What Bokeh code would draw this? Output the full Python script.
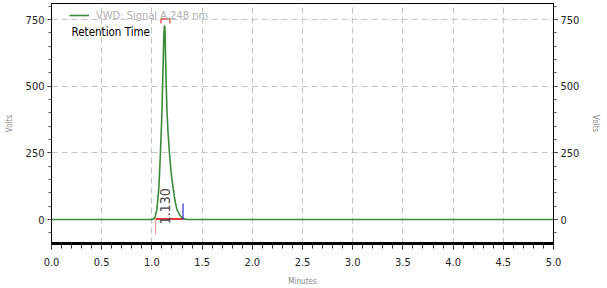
import numpy as np
from bokeh.plotting import figure
from bokeh.models import (LinearAxis, SingleIntervalTicker, Range1d, Legend, LegendItem,
                          ColumnDataSource, Label, CustomJSTickFormatter)
from bokeh.core.properties import value
from bokeh.embed import file_html
from bokeh.resources import INLINE

# ---- data ----
time_min = [0.0, 1.00, 1.03, 1.05, 1.07, 1.085, 1.10, 1.11, 1.12, 1.125, 1.13, 1.14, 1.15,
            1.16, 1.175, 1.19, 1.21, 1.23, 1.25, 1.28, 1.31, 1.35, 5.0]
signal = [0, 0, 7, 37, 123, 249, 400, 560, 700, 728, 715, 540, 410,
          330, 249, 180, 123, 70, 37, 15, 4, 0, 0]

peak_rt = [1.13]
peak_label = ["1.130"]
peak_start = 1.036
peak_end = 1.31
baseline_level = 2
start_marker_depth = -56
end_marker_height = 60
width_bar_left = 1.09
width_bar_right = 1.18
width_bar_level = 752
width_bar_tick = 735

x_ticks_interval = 0.5
y_ticks_interval = 250

FONT = "DejaVu Sans Condensed, Liberation Sans Narrow, Arial Narrow, Liberation Sans, sans-serif"

p = figure(width=607, height=288, output_backend="svg", toolbar_location=None,
           x_range=Range1d(0, 5), y_range=Range1d(-90, 810),
           min_border_left=51, min_border_right=54, min_border_top=3, min_border_bottom=44)
p.background_fill_color = "white"
p.border_fill_color = "white"
p.outline_line_color = "black"
p.outline_line_width = 1

xt = SingleIntervalTicker(interval=x_ticks_interval, num_minor_ticks=5)
yt = SingleIntervalTicker(interval=y_ticks_interval, num_minor_ticks=5)

p.xaxis.ticker = xt
p.yaxis.ticker = yt
p.xgrid.ticker = xt
p.ygrid.ticker = yt
for g in (p.xgrid, p.ygrid):
    g.grid_line_color = "#c4c4c4"
    g.grid_line_dash = "6 4"
    g.grid_line_width = 1

ry = LinearAxis(ticker=yt)
p.add_layout(ry, "right")

for ax in (p.yaxis[0], ry):
    ax.axis_label = "Volts"
    ax.axis_label_text_font_size = "8px"
    ax.axis_label_text_font_style = "normal"
    ax.axis_label_text_color = "#888888"
    ax.axis_label_text_font = FONT
    ax.axis_label_standoff = 9
    ax.major_label_text_font = FONT
    ax.major_label_text_font_size = "11px"
    ax.major_label_text_color = "#222222"
    ax.major_label_standoff = 3
    ax.major_tick_out = 4
    ax.major_tick_in = 0
    ax.minor_tick_out = 3
    ax.minor_tick_in = 0
    ax.axis_line_color = "black"
    ax.major_tick_line_color = "black"
    ax.minor_tick_line_color = "#555555"

xa = p.xaxis[0]
xa.axis_label = "Minutes"
xa.axis_label_text_font_size = "8px"
xa.axis_label_text_font_style = "normal"
xa.axis_label_text_color = "#888888"
xa.axis_label_text_font = FONT
xa.axis_label_standoff = 8
xa.major_label_text_font = FONT
xa.major_label_text_font_size = "11px"
xa.major_label_text_color = "#222222"
xa.major_label_standoff = 8
xa.major_tick_out = 6
xa.major_tick_in = 0
xa.minor_tick_out = 5
xa.minor_tick_in = 0
xa.axis_line_width = 3
xa.axis_line_color = "black"
xa.major_tick_line_color = "black"
xa.minor_tick_line_color = "#333333"
xa.formatter = CustomJSTickFormatter(code="return tick.toFixed(1);")

# trace
src = ColumnDataSource(dict(t=time_min, s=signal))
trace = p.line("t", "s", source=src, line_color="#3a8a3a", line_width=1.6)

# integration markers
p.segment(x0=[peak_start], y0=[baseline_level], x1=[peak_end], y1=[baseline_level],
          line_color="#e03a3a", line_width=2)
p.segment(x0=[peak_start], y0=[0], x1=[peak_start], y1=[start_marker_depth],
          line_color="#ff9a9a", line_width=1.2)
p.segment(x0=[peak_end], y0=[0], x1=[peak_end], y1=[end_marker_height],
          line_color="#2a2ad0", line_width=1.2)
p.segment(x0=[width_bar_left, width_bar_left, width_bar_right],
          y0=[width_bar_level, width_bar_level, width_bar_level],
          x1=[width_bar_right, width_bar_left, width_bar_right],
          y1=[width_bar_level, width_bar_tick, width_bar_tick],
          line_color="#e03a3a", line_width=1.2)

# retention time label
rt_src = ColumnDataSource(dict(x=peak_rt, y=[50], t=peak_label))
p.text(x="x", y="y", text="t", source=rt_src, angle=np.pi / 2,
       text_align="center", text_baseline="middle", text_font_size="14px",
       text_color="#444444", text_font=value(FONT))

p.add_layout(Label(x=0.2, y=705, text="Retention Time", text_font_size="11.5px",
                   text_color="black", text_baseline="middle", text_font=FONT))

legend = Legend(items=[LegendItem(label="VWD: Signal A,248 nm", renderers=[trace])],
                location=(18, 221), padding=0, margin=0, spacing=0,
                glyph_width=20, glyph_height=14, label_standoff=7,
                label_text_font_size="11px", label_text_color="#b0b0b0",
                label_text_font=FONT, background_fill_alpha=0,
                border_line_alpha=0)
p.add_layout(legend)

open("out.html", "w").write(file_html(p, INLINE))
